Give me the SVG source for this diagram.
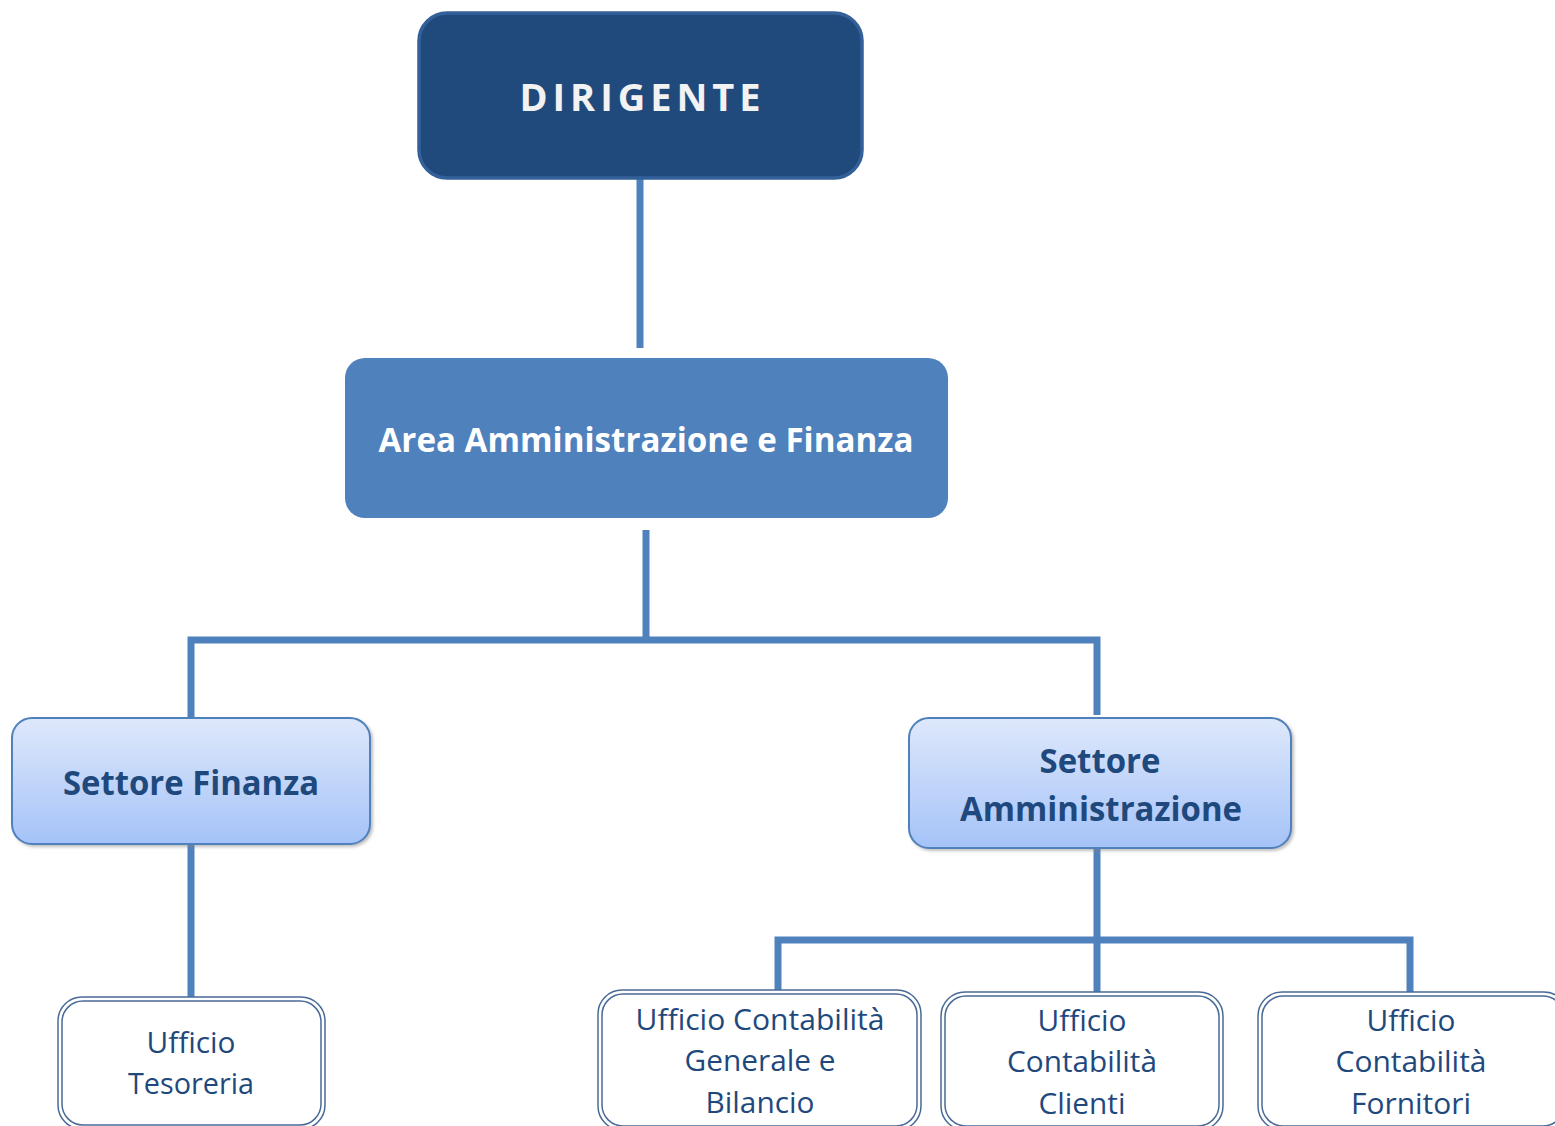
<svg xmlns="http://www.w3.org/2000/svg" width="1555" height="1126" viewBox="0 0 1555 1126">
  <defs>
    <linearGradient id="settoreFill" x1="0" y1="0" x2="0" y2="1">
      <stop offset="0" stop-color="#DEE8FB"/>
      <stop offset="1" stop-color="#A5C3F8"/>
    </linearGradient>
    <filter id="softShadow" x="-5%" y="-5%" width="112%" height="115%">
      <feDropShadow dx="2" dy="2" stdDeviation="1.5" flood-color="#808080" flood-opacity="0.5"/>
    </filter>
  </defs>
  <style>
    .link { stroke: #4F81BD; stroke-width: 7; fill: none; stroke-linecap: butt; }
    .txt { font-family: "Open Sans", "Noto Sans", "Liberation Sans", sans-serif; text-anchor: middle; }
    .bold { font-weight: 700; }
    .dark { fill: #1F497D; }
    .light { fill: #FFFFFF; }
    .settore { fill: url(#settoreFill); stroke: #4F81BD; stroke-width: 2; }
    .ufficio-out { fill: #FFFFFF; stroke: #4A6A96; stroke-width: 1.5; }
    .ufficio-in { fill: none; stroke: #4A6A96; stroke-width: 1.5; }
  </style>
  <rect width="1555" height="1126" fill="#FFFFFF"/>

  <g id="connectors">
    <line class="link" x1="640" y1="179" x2="640" y2="348"/>
    <line class="link" x1="646" y1="530" x2="646" y2="640"/>
    <polyline class="link" points="191,718 191,640 1097,640 1097,715"/>
    <line class="link" x1="191" y1="845" x2="191" y2="997"/>
    <line class="link" x1="1097" y1="849" x2="1097" y2="940"/>
    <polyline class="link" points="778,990 778,940 1410,940 1410,993"/>
    <line class="link" x1="1097" y1="940" x2="1097" y2="993"/>
  </g>

  <g id="dirigente">
    <rect x="419" y="13" width="443" height="165" rx="28" fill="#214A7C" stroke="#34609A" stroke-width="3.5"/>
    <text class="txt bold" x="640" y="111" font-size="38" fill="#F2F2F2" textLength="241" lengthAdjust="spacing">DIRIGENTE</text>
  </g>

  <g id="area">
    <rect x="345" y="358" width="603" height="160" rx="20" fill="#4F81BD"/>
    <text class="txt bold light" x="646" y="452" font-size="34" textLength="535" lengthAdjust="spacingAndGlyphs">Area Amministrazione e Finanza</text>
  </g>

  <g id="settore-finanza">
    <rect class="settore" x="12" y="718" width="358" height="126" rx="20" filter="url(#softShadow)"/>
    <text class="txt bold dark" x="191" y="795" font-size="34" textLength="256" lengthAdjust="spacingAndGlyphs">Settore Finanza</text>
  </g>

  <g id="settore-amministrazione">
    <rect class="settore" x="909" y="718" width="382" height="130" rx="20" filter="url(#softShadow)"/>
    <text class="txt bold dark" x="1100" y="773" font-size="34" textLength="121" lengthAdjust="spacingAndGlyphs">Settore</text>
    <text class="txt bold dark" x="1101" y="821" font-size="34" textLength="282" lengthAdjust="spacingAndGlyphs">Amministrazione</text>
  </g>

  <g id="ufficio-tesoreria">
    <rect class="ufficio-out" x="58" y="997" width="267" height="132" rx="24"/>
    <rect class="ufficio-in" x="62" y="1001" width="259" height="124" rx="21"/>
    <text class="txt dark" x="191" y="1053" font-size="30" textLength="89" lengthAdjust="spacingAndGlyphs">Ufficio</text>
    <text class="txt dark" x="191" y="1094" font-size="30" textLength="126" lengthAdjust="spacingAndGlyphs">Tesoreria</text>
  </g>

  <g id="ufficio-generale">
    <rect class="ufficio-out" x="598" y="990" width="323" height="140" rx="24"/>
    <rect class="ufficio-in" x="602" y="994" width="315" height="132" rx="21"/>
    <text class="txt dark" x="760" y="1030" font-size="30" textLength="249" lengthAdjust="spacingAndGlyphs">Ufficio Contabilità</text>
    <text class="txt dark" x="760" y="1071" font-size="30" textLength="151" lengthAdjust="spacingAndGlyphs">Generale e</text>
    <text class="txt dark" x="760" y="1113" font-size="30" textLength="109" lengthAdjust="spacingAndGlyphs">Bilancio</text>
  </g>

  <g id="ufficio-clienti">
    <rect class="ufficio-out" x="941" y="992" width="282" height="138" rx="24"/>
    <rect class="ufficio-in" x="945" y="996" width="274" height="130" rx="21"/>
    <text class="txt dark" x="1082" y="1031" font-size="30" textLength="89" lengthAdjust="spacingAndGlyphs">Ufficio</text>
    <text class="txt dark" x="1082" y="1072" font-size="30" textLength="150" lengthAdjust="spacingAndGlyphs">Contabilità</text>
    <text class="txt dark" x="1082" y="1114" font-size="30" textLength="87" lengthAdjust="spacingAndGlyphs">Clienti</text>
  </g>

  <g id="ufficio-fornitori">
    <rect class="ufficio-out" x="1258" y="992" width="310" height="138" rx="24"/>
    <rect class="ufficio-in" x="1262" y="996" width="302" height="130" rx="21"/>
    <text class="txt dark" x="1411" y="1031" font-size="30" textLength="89" lengthAdjust="spacingAndGlyphs">Ufficio</text>
    <text class="txt dark" x="1411" y="1072" font-size="30" textLength="151" lengthAdjust="spacingAndGlyphs">Contabilità</text>
    <text class="txt dark" x="1411" y="1114" font-size="30" textLength="120" lengthAdjust="spacingAndGlyphs">Fornitori</text>
  </g>
</svg>
